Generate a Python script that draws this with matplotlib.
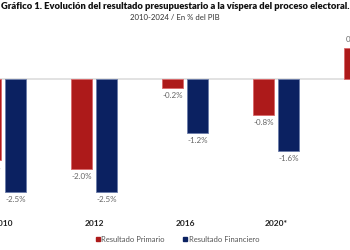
import numpy as np
import matplotlib
matplotlib.use('Agg')
import matplotlib.pyplot as plt
from matplotlib.lines import Line2D

plt.rcParams['font.family'] = ['Lato', 'DejaVu Sans']

years = ['2010', '2012', '2016', '2020*', '2024']
primario = [-1.8, -2.0, -0.2, -0.8, 0.7]
financiero = [-2.5, -2.5, -1.2, -1.6, -0.9]

red = '#AD1A1A'
blue = '#0B2161'

fig = plt.figure(figsize=(3.5, 2.5), dpi=100)
# the source is cropped: the axes run past both figure edges
ax = fig.add_axes([-42.5 / 350, 36 / 250, 455 / 350, 180 / 250])

x = np.arange(len(years))
w = 0.23
b1 = ax.bar(x - 0.14, primario, w, color=red, edgecolor='#D9686A', linewidth=0.6, zorder=3)
b2 = ax.bar(x + 0.14, financiero, w, color=blue, edgecolor='#6C7DAA', linewidth=0.6, zorder=3)

ax.axhline(0, color='#DDDDDD', linewidth=1.2, zorder=2)

for bars, vals in [(b1, primario), (b2, financiero)]:
    for rect, v in zip(bars, vals):
        off = 3 if v > 0 else -3
        ax.annotate(f'{v:.1f}%', (rect.get_x() + rect.get_width() / 2, v),
                    xytext=(0, off), textcoords='offset points',
                    ha='center', va='bottom' if v > 0 else 'top',
                    fontsize=5.8, color='#666666')

ax.set_xlim(-0.5, 4.5)
ax.set_ylim(-3, 1)
ax.set_xticks(x)
ax.set_xticklabels(years, fontsize=6, fontweight='bold', color='#222222')
ax.tick_params(axis='x', length=0, pad=4)
ax.set_yticks([])
for s in ax.spines.values():
    s.set_visible(False)

fig.text(0.5, 1 - 6.5 / 250, 'Gráfico 1. Evolución del resultado presupuestario a la víspera del proceso electoral.',
         ha='center', va='center', fontsize=6.75, fontweight='heavy', color='#111111')
fig.text(0.5, 1 - 17.5 / 250, '2010-2024 / En % del PIB', ha='center', va='center',
         fontsize=5.6, color='#333333')

handles = [Line2D([], [], marker='s', ls='', color=red, markersize=3),
           Line2D([], [], marker='s', ls='', color=blue, markersize=3)]
fig.legend(handles, ['Resultado Primario', 'Resultado Financiero'],
           loc='center', bbox_to_anchor=(0.505, 11 / 250), ncol=2, frameon=False,
           fontsize=5.5, labelcolor='#555555', handletextpad=0.1, columnspacing=2.2,
           handlelength=0.8)

fig.savefig('out.png', dpi=100)
